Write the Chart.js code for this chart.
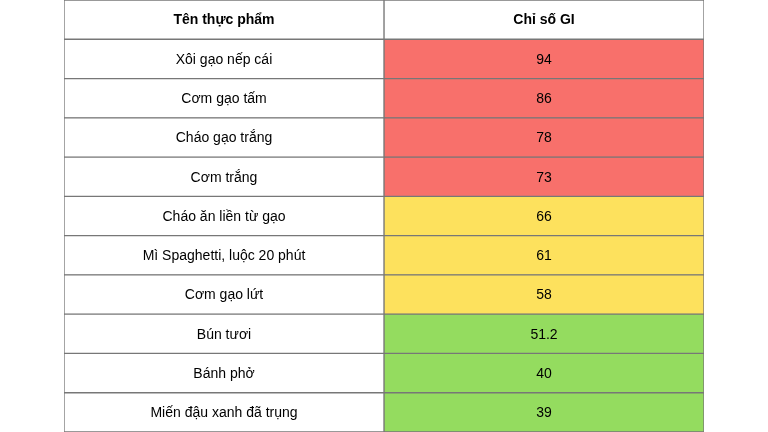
<!DOCTYPE html>
<html><head><meta charset="utf-8">
<script src="https://cdn.jsdelivr.net/npm/chart.js@4"></script>
<style>html,body{margin:0;padding:0;background:#fff}</style>
</head><body>
<canvas id="c" width="768" height="432"></canvas>
<script>
const headers = ["Tên thực phẩm", "Chỉ số GI"];
const foods = ["Xôi gạo nếp cái","Cơm gạo tấm","Cháo gạo trắng","Cơm trắng","Cháo ăn liền từ gạo","Mì Spaghetti, luộc 20 phút","Cơm gạo lứt","Bún tươi","Bánh phở","Miến đậu xanh đã trụng"];
const giValues = ["94","86","78","73","66","61","58","51.2","40","39"];
function giColor(v){ v=parseFloat(v); return v>=70?"#f8706b":(v>=56?"#fde15d":"#94dc5f"); }
const rows = ["h"].concat(foods.map((f,i)=>"r"+i));
const col1 = rows.map(()=>[0,1]);
const col2 = rows.map(()=>[1,2]);
const col2Colors = ["#ffffff"].concat(giValues.map(giColor));
const textPlugin = {
  id:"txt",
  afterDatasetsDraw(chart){
    const ctx=chart.ctx, x=chart.scales.x, y=chart.scales.y;
    ctx.save(); ctx.fillStyle="#000"; ctx.textAlign="center"; ctx.textBaseline="middle";
    rows.forEach((r,i)=>{
      const yy=y.getPixelForValue(i)+1;
      if(i===0){ ctx.font="bold 14px 'Liberation Sans', Arial";
        ctx.fillText(headers[0],x.getPixelForValue(0.5),yy); ctx.fillText(headers[1],x.getPixelForValue(1.5),yy);}
      else { ctx.font="14px 'Liberation Sans', Arial";
        ctx.fillText(foods[i-1],x.getPixelForValue(0.5),yy); ctx.fillText(giValues[i-1],x.getPixelForValue(1.5),yy);}
    });
    ctx.restore();
  }
};
new Chart(document.getElementById("c"),{
  type:"bar",
  data:{labels:rows,datasets:[
    {data:col1,backgroundColor:"#ffffff",borderColor:"#777777",borderWidth:1,borderSkipped:false,categoryPercentage:1,barPercentage:1,grouped:false},
    {data:col2,backgroundColor:col2Colors,borderColor:"#777777",borderWidth:1,borderSkipped:false,categoryPercentage:1,barPercentage:1,grouped:false}
  ]},
  options:{indexAxis:"y",responsive:false,animation:false,devicePixelRatio:1,
    layout:{padding:{left:64,right:64,top:0,bottom:0}},
    plugins:{legend:{display:false},tooltip:{enabled:false}},
    scales:{x:{type:"linear",min:0,max:2,display:false},y:{display:false}}},
  plugins:[textPlugin]
});
</script>
</body></html>
